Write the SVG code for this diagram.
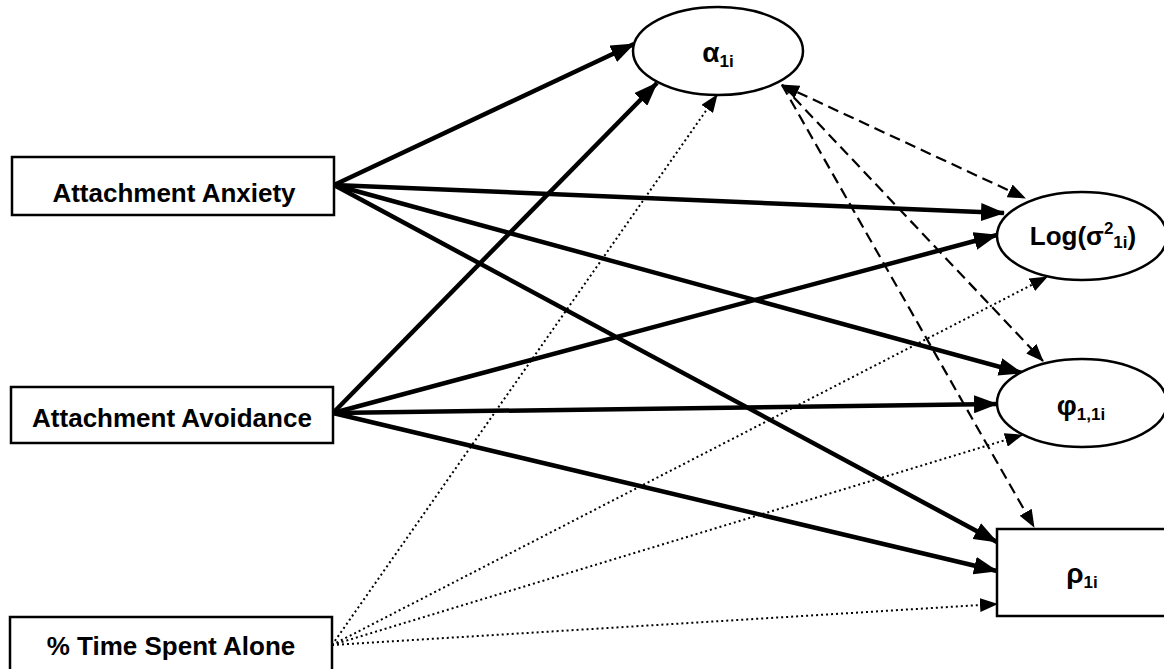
<svg xmlns="http://www.w3.org/2000/svg" width="1164" height="669" viewBox="0 0 1164 669">
<style>
.box{fill:#fff;stroke:#000;stroke-width:2.5}
.lbl{font-family:"Liberation Sans",Arial,sans-serif;font-weight:bold;font-size:26px;fill:#000}
.gr{font-size:28px}
.sub{font-size:17px}
.solid{stroke:#000;stroke-width:4.5;fill:none}
.dash{stroke:#000;stroke-width:2.2;fill:none;stroke-dasharray:11 6}
.dot{stroke:#000;stroke-width:2;fill:none;stroke-dasharray:2 3}
</style>
<defs>
<marker id="hs" markerUnits="userSpaceOnUse" markerWidth="24" markerHeight="18" refX="23" refY="9" orient="auto"><path d="M0,0 L24,9 L0,18 z" fill="#000"/></marker>
<marker id="hd" markerUnits="userSpaceOnUse" markerWidth="18" markerHeight="14" refX="17" refY="7" orient="auto-start-reverse"><path d="M0,0 L18,7 L0,14 z" fill="#000"/></marker>
</defs>
<rect width="1164" height="669" fill="#fff"/>
<g id="connectors">
<line class="solid" x1="334" y1="185" x2="634" y2="44" marker-end="url(#hs)"/>
<line class="solid" x1="334" y1="185" x2="1004" y2="213" marker-end="url(#hs)"/>
<line class="solid" x1="334" y1="185" x2="1022" y2="373" marker-end="url(#hs)"/>
<line class="solid" x1="334" y1="185" x2="997" y2="542" marker-end="url(#hs)"/>
<line class="solid" x1="333" y1="413" x2="657" y2="83" marker-end="url(#hs)"/>
<line class="solid" x1="333" y1="413" x2="997" y2="235" marker-end="url(#hs)"/>
<line class="solid" x1="333" y1="413" x2="997" y2="404" marker-end="url(#hs)"/>
<line class="solid" x1="333" y1="413" x2="997" y2="571" marker-end="url(#hs)"/>
<line class="dot" x1="332" y1="645" x2="717" y2="95" marker-end="url(#hd)"/>
<line class="dot" x1="332" y1="645" x2="1047" y2="277" marker-end="url(#hd)"/>
<line class="dot" x1="332" y1="645" x2="1022" y2="435" marker-end="url(#hd)"/>
<line class="dot" x1="332" y1="645" x2="997" y2="604" marker-end="url(#hd)"/>
<line class="dash" x1="782" y1="85" x2="1025" y2="198" marker-start="url(#hd)" marker-end="url(#hd)"/>
<line class="dash" x1="782" y1="85" x2="1043" y2="361" marker-end="url(#hd)"/>
<line class="dash" x1="782" y1="85" x2="1034" y2="527" marker-end="url(#hd)"/>
</g>
<g id="anxiety"><rect class="box" x="12" y="157" width="322" height="58"/><text class="lbl" x="174" y="202" text-anchor="middle">Attachment Anxiety</text></g>
<g id="avoidance"><rect class="box" x="11" y="387" width="322" height="56"/><text class="lbl" x="172" y="427" text-anchor="middle">Attachment Avoidance</text></g>
<g id="alone"><rect class="box" x="10" y="617" width="322" height="60"/><text class="lbl" x="171" y="655" text-anchor="middle">% Time Spent Alone</text></g>
<g id="alpha"><ellipse class="box" cx="718" cy="51" rx="85" ry="44"/><text class="lbl gr" x="718" y="62" text-anchor="middle">α<tspan class="sub" dy="5">1i</tspan></text></g>
<g id="logsigma"><ellipse class="box" cx="1082" cy="236" rx="85" ry="44"/><text class="lbl" x="1083" y="245" text-anchor="middle">Log(σ<tspan class="sub" dy="-11">2</tspan><tspan class="sub" dy="14">1i</tspan><tspan dy="-3">)</tspan></text></g>
<g id="phi"><ellipse class="box" cx="1082" cy="403" rx="85" ry="44"/><text class="lbl gr" x="1081" y="415" text-anchor="middle">φ<tspan class="sub" dy="5">1,1i</tspan></text></g>
<g id="rho"><rect class="box" x="997" y="529" width="180" height="87"/><text class="lbl gr" x="1082" y="583" text-anchor="middle">ρ<tspan class="sub" dy="5">1i</tspan></text></g>
</svg>
